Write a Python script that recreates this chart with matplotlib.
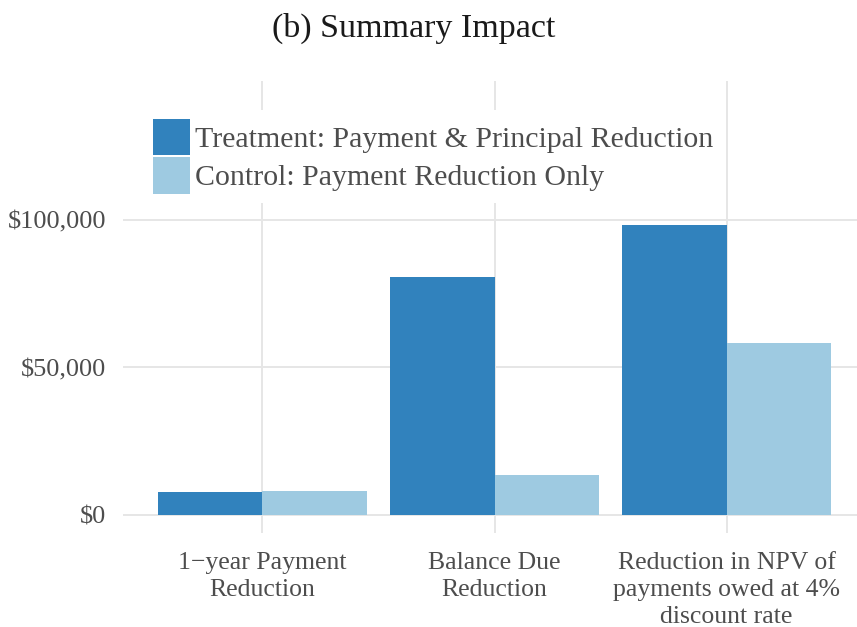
import matplotlib
matplotlib.use("Agg")
import matplotlib.pyplot as plt
from matplotlib.patches import Patch
import numpy as np

categories = ["1\u2212year Payment\nReduction", "Balance Due\nReduction",
              "Reduction in NPV of\npayments owed at 4%\ndiscount rate"]
treatment = [7900, 80800, 98200]
control = [8300, 13500, 58200]
series_labels = ["Treatment: Payment & Principal Reduction",
                 "Control: Payment Reduction Only"]
yticks = [0, 50000, 100000]
ytick_labels = ["$0", "$50,000", "$100,000"]
title = "(b) Summary Impact"

c_treat = "#3182bd"
c_ctrl = "#9ecae1"
txt = "#4d4d4d"
grid = "#e6e6e6"

plt.rcParams["font.family"] = ["Liberation Serif", "DejaVu Serif"]

W, H = 857, 627
fig = plt.figure(figsize=(W / 100, H / 100), dpi=100)
left, right, top, bottom = 123, 866, 81, 533
ax = fig.add_axes([left / W, 1 - bottom / H, (right - left) / W, (bottom - top) / H])

x = np.arange(1, len(categories) + 1)
w = 0.45
ax.bar(x - w / 2, treatment, width=w, color=c_treat, zorder=3, linewidth=0)
ax.bar(x + w / 2, control, width=w, color=c_ctrl, zorder=3, linewidth=0)

ax.set_xlim(0.4, 3.6)
ax.set_ylim(-6100, 147100)
ax.set_xticks(x)
ax.set_xticklabels(categories, fontsize=18.5, color=txt, linespacing=1.28)
ax.set_yticks(yticks)
ax.set_yticklabels(ytick_labels, fontsize=19, color=txt)
ax.tick_params(axis="both", length=0)
ax.tick_params(axis="y", pad=12)
ax.tick_params(axis="x", pad=14)
for s in ax.spines.values():
    s.set_visible(False)
ax.grid(True, color=grid, linewidth=1.4, zorder=0)
ax.set_axisbelow(True)

handles = [Patch(facecolor=c_treat, edgecolor="none"),
           Patch(facecolor=c_ctrl, edgecolor="none")]
leg = ax.legend(handles, series_labels, loc="upper left",
                bbox_to_anchor=(144 / W, 1 - 110 / H), bbox_transform=fig.transFigure,
                fontsize=21.5, frameon=True, fancybox=False, framealpha=1,
                facecolor="white", edgecolor="none",
                handlelength=1.25, handleheight=1.5, handletextpad=0.17,
                labelspacing=0.06, borderpad=0.3, borderaxespad=0)
for t in leg.get_texts():
    t.set_color(txt)
leg.set_zorder(5)

fig.text(414 / W, 1 - 28 / H, title, ha="center", va="center", fontsize=24.5, color="#1a1a1a")

fig.savefig("out.png", dpi=100)
